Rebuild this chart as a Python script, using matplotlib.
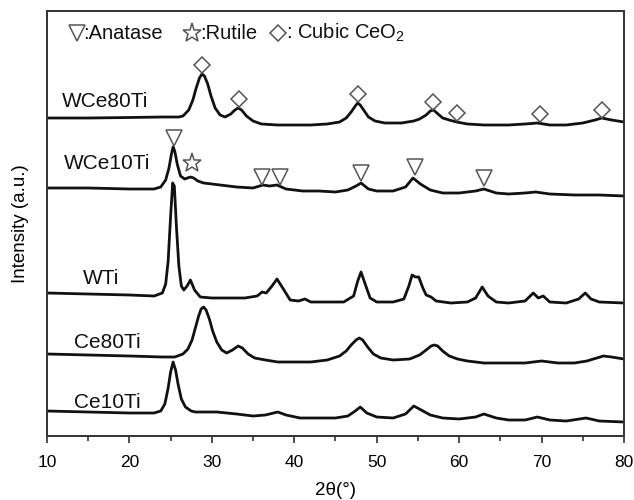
import numpy as np
import matplotlib
matplotlib.use("Agg")
from matplotlib import pyplot as plt

# digitised XRD patterns: 2theta [deg] and stacked intensity [a.u., offset already included]
wce80_x = [10, 15, 20, 24, 26, 26.5, 27.2, 27.7, 28.1, 28.5, 28.8, 29.1, 29.5, 29.9, 30.4, 31.0,
           31.6, 32.3, 32.8, 33.2, 33.6, 34.2, 35.0, 36.0, 38, 40, 42, 44, 45.5, 46.3, 46.9,
           47.4, 47.7, 48.0, 48.5, 49.0, 49.8, 51.0, 53, 54.5, 55.2, 56.0, 56.5, 56.9, 57.3,
           58.0, 58.8, 59.7, 61, 63, 66, 68, 69.5, 71, 73, 75, 76.5, 77.3, 78.5, 80]
wce80_y = [318, 318, 318.5, 319, 319, 320, 326, 336, 348, 358, 362, 360, 352, 340, 328, 321,
           319, 322, 326, 328, 326, 320, 315, 312, 311, 311, 311, 312, 314, 318, 324,
           330, 333, 331, 325, 319, 315, 313, 313, 315, 317, 321, 325, 326, 323,
           318, 316, 314, 312, 311, 311, 312, 313, 311, 311, 313, 316, 318, 316, 314]

wce10_x = [10, 15, 20, 23, 23.8, 24.4, 24.8, 25.1, 25.3, 25.5, 25.8, 26.2, 26.7, 27.4, 27.8,
           28.3, 29, 31, 33, 35, 36.2, 37.0, 37.9, 39, 41, 43, 45, 46.5, 47.5, 48.1, 49.0,
           50, 52, 53.5, 54.4, 55.3, 56.5, 58, 60, 62, 63.0, 64.5, 66, 68, 69.3, 71, 74, 77, 80]
wce10_y = [248, 248, 247, 247, 249, 256, 268, 282, 289, 285, 272, 260, 257, 259, 258,
           255, 253, 251, 249, 248, 251, 250, 251, 247, 245, 245, 244, 246, 250, 253, 247,
           245, 245, 249, 258, 252, 246, 243, 243, 245, 247, 243, 242, 243, 244, 242, 241, 241, 240]

wti_x = [10, 15, 20, 23, 24.0, 24.4, 24.7, 25.0, 25.25, 25.45, 25.7, 26.0, 26.3, 26.6, 27.0,
         27.4, 27.9, 28.6, 30, 32, 34, 35.5, 36.1, 36.6, 37.3, 37.9, 38.6, 39.5, 40.5, 41.3,
         42.0, 44, 46, 47.2, 47.7, 48.1, 48.6, 49.2, 50, 52, 53.3, 53.9, 54.3, 54.7, 55.1,
         55.6, 56.0, 56.6, 57.2, 59, 61, 62.0, 62.8, 63.5, 64.5, 66, 68.0, 69.0, 69.6, 70.2,
         71.0, 73, 74.5, 75.3, 76.0, 77, 80]
wti_y = [143, 142, 141, 140, 143, 152, 175, 220, 253, 250, 210, 170, 150, 146, 150,
         156, 146, 139, 138, 138, 138, 140, 144, 143, 150, 157, 148, 136, 135, 137,
         134, 134, 134, 140, 155, 164, 152, 138, 134, 134, 137, 150, 161, 159, 159,
         148, 141, 139, 135, 133, 134, 138, 149, 140, 134, 133, 135, 143, 138, 140,
         134, 133, 137, 143, 137, 134, 133]

ce80_x = [10, 15, 20, 24, 25.5, 26.5, 27.1, 27.6, 28.0, 28.4, 28.7, 29.0, 29.3, 29.7, 30.1,
          30.6, 31.2, 31.8, 32.5, 33.2, 33.7, 34.4, 35.2, 36.5, 38, 40, 42, 44, 45.5, 46.3,
          46.9, 47.5, 47.9, 48.3, 48.9, 49.6, 50.5, 52, 54, 55.2, 56.0, 56.6, 57.0, 57.4,
          58.0, 58.8, 59.8, 61, 63, 66, 68, 70.0, 72, 74, 75.5, 76.7, 77.5, 78.5, 80]
ce80_y = [82, 81, 80, 79, 79, 82, 87, 96, 108, 120, 127, 129, 126, 117, 105,
          94, 86, 83, 86, 90, 88, 82, 78, 76, 74, 74, 74, 76, 80, 85,
          91, 96, 98, 96, 89, 82, 78, 76, 77, 81, 86, 90, 91, 90,
          85, 80, 77, 75, 73, 73, 73, 75, 73, 73, 75, 78, 80, 79, 77]

ce10_x = [10, 15, 20, 23, 23.8, 24.3, 24.7, 25.0, 25.3, 25.6, 25.9, 26.3, 26.8, 27.5, 28,
          30.6, 33, 35, 36.5, 38.0, 39, 40.7, 43, 45, 46.5, 47.4, 48.0, 48.8, 50, 52, 53.5,
          54.5, 55.4, 56.5, 58, 60, 62, 63.0, 64.5, 66, 68, 69.5, 71, 73, 75.4, 77, 80]
ce10_y = [25, 24, 23, 23, 25, 32, 48, 64, 74, 66, 52, 37, 29, 25, 24,
          24, 22, 20, 21, 24, 21, 18, 18, 18, 20, 25, 29, 23, 19, 18, 22,
          30, 26, 21, 18, 17, 19, 22, 18, 16, 16, 19, 16, 15, 18, 15, 14]

sample_names = ["WCe80Ti", "WCe10Ti", "WTi", "Ce80Ti", "Ce10Ti"]
label_x = [11.8, 12.1, 14.4, 13.3, 13.3]
label_y = [335, 273, 157, 93, 34]

# phase markers
cubic_x = [28.8, 33.3, 47.7, 56.8, 59.7, 69.8, 77.3]
cubic_y = [371, 337, 342, 334, 323, 322, 326]
anatase_x = [25.4, 36.1, 38.3, 48.1, 54.6, 63.0]
anatase_y = [298, 259, 259, 263, 269, 258]
rutile_x = [27.6]
rutile_y = [273]

plt.rcParams['font.family'] = ['Liberation Sans', 'DejaVu Sans']
plt.rcParams['mathtext.fontset'] = 'custom'
plt.rcParams['mathtext.rm'] = 'Liberation Sans'
plt.rcParams['mathtext.it'] = 'Liberation Sans:italic'

fig = plt.figure(figsize=(6.34, 5.0), dpi=100)
ax = fig.add_axes([0.0741, 0.128, 0.9101, 0.85])

curves = [(wce80_x, wce80_y), (wce10_x, wce10_y), (wti_x, wti_y),
          (ce80_x, ce80_y), (ce10_x, ce10_y)]
for (x, y) in curves:
    ax.plot(x, y, color='#111111', lw=2.0, solid_joinstyle='round')

for name, lx, ly in zip(sample_names, label_x, label_y):
    ax.text(lx, ly, name, fontsize=15, va='center', ha='left', color='#111111')

mk = dict(linestyle='none', markerfacecolor='none', markeredgecolor='#555555', markeredgewidth=1.1)
ax.plot(cubic_x, cubic_y, marker='D', markersize=8, **mk)
ax.plot(anatase_x, anatase_y, marker='v', markersize=11, **mk)
ax.plot(rutile_x, rutile_y, marker='*', markersize=14, **mk)

# phase key at the top
ax.plot([13.6], [403], marker='v', markersize=11, **mk)
ax.plot([27.6], [403], marker='*', markersize=14, **mk)
ax.plot([38.0], [403], marker='D', markersize=8, **mk)
ax.text(14.4, 403, ":Anatase", fontsize=14.5, va='center', ha='left', color='#111111')
ax.text(28.6, 403, ":Rutile", fontsize=14.5, va='center', ha='left', color='#111111')
ax.text(39.0, 403, ": Cubic CeO$_2$", fontsize=14.5, va='center', ha='left', color='#111111')

ax.set_xlim(10, 80)
ax.set_ylim(0, 425)
ax.set_xticks([10, 20, 30, 40, 50, 60, 70, 80])
ax.set_xticks([15, 25, 35, 45, 55, 65, 75], minor=True)
ax.set_yticks([])
ax.tick_params(axis='x', which='major', direction='out', length=5, width=1.2,
               labelsize=12.5, color='#333333', pad=9)
ax.tick_params(axis='x', which='minor', direction='out', length=3.5, width=1.2, color='#333333')
for s in ax.spines.values():
    s.set_color('#333333')
    s.set_linewidth(1.4)

ax.set_xlabel("2θ(°)", fontsize=13.5, labelpad=8)
ax.set_ylabel("Intensity (a.u.)", fontsize=13.5, labelpad=13)

fig.savefig("out.png", dpi=100)
